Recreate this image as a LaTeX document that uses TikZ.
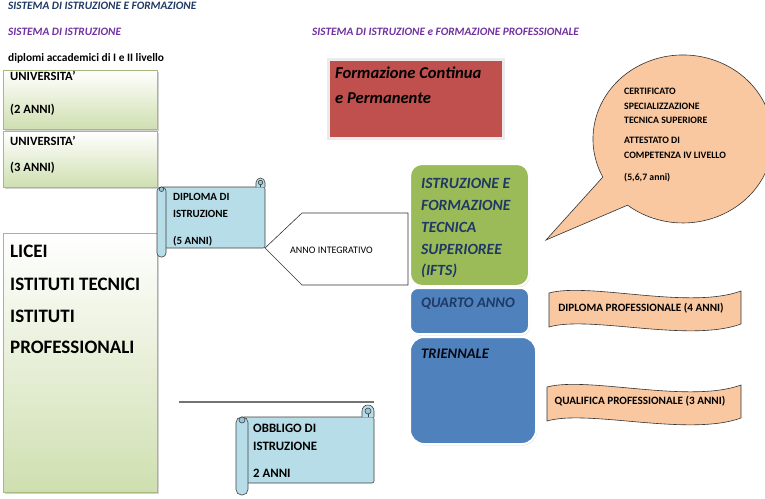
\documentclass[tikz,border=0pt]{standalone}
\usepackage{fontspec}
\setmainfont{Carlito}
\usetikzlibrary{shadows}

\definecolor{titlenavy}{HTML}{1F3864}
\definecolor{titlepurple}{HTML}{7030A0}
\definecolor{unigreen}{HTML}{CFDFB0}
\definecolor{uniborder}{HTML}{A6B97F}
\definecolor{scrollblue}{HTML}{B7DDE8}
\definecolor{rollblue}{HTML}{98C6D4}
\definecolor{fcred}{HTML}{C0504D}
\definecolor{iftsgreen}{HTML}{9BBB59}
\definecolor{iefpblue}{HTML}{4F81BD}
\definecolor{peach}{HTML}{FAC8A0}

\newcommand{\pxfont}[1]{\fontsize{#1}{#1}\selectfont}

% horizontal scroll: x0, top, x1, bottom, roll radius
\newcommand{\scrollbox}[5]{%
  \filldraw[scrollline, fill=scrollblue, rounded corners=2pt]
    (#1+#5,#2+2*#5) rectangle (#3,#4-2*#5);
  \filldraw[scrollline, fill=scrollblue]
    (#3-2*#5,#2+2*#5) -- (#3-2*#5,#2+#5)
    arc[start angle=180, end angle=360, radius=#5] -- (#3,#2+2*#5);
  \filldraw[scrollline, fill=rollblue]
    (#3-#5,#2+#5) circle[radius=#5/2];
  \draw[scrollline] (#3-#5,#2+2*#5) -- (#3-#5,#2+1.5*#5);
  \filldraw[scrollline, fill=scrollblue, rounded corners=#5-0.5]
    (#1,#2+2*#5) rectangle (#1+2*#5,#4);
  \filldraw[scrollline, fill=rollblue]
    (#1+#5,#2+2.5*#5) circle[radius=#5/2];
}

% wavy banner: x0, top, width
\newcommand{\wavebanner}[3]{%
  \filldraw[draw=black!80, fill=peach, line width=0.6pt]
    (#1,#2+3) .. controls (#1+0.21*#3,#2-8) and (#1+0.73*#3,#2+20) .. (#1+#3,#2+1)
    -- (#1+#3,#2+34)
    .. controls (#1+0.73*#3,#2+53) and (#1+0.21*#3,#2+25) .. (#1,#2+37) -- cycle;
}

\tikzset{
  lbl/.style={anchor=base west, inner sep=0pt},
  title/.style={lbl, font=\pxfont{11.3}\bfseries\itshape},
  unibox/.style={draw=uniborder, line width=0.8pt, top color=white, bottom color=unigreen,
    anchor=north west, inner sep=0pt,
    drop shadow={shadow xshift=1.5pt, shadow yshift=-2pt, opacity=0.35}},
  unitext/.style={lbl, font=\pxfont{12.6}\bfseries},
  scrollline/.style={draw=black!75, line width=0.6pt},
  roundbox/.style={draw=white, line width=2pt, anchor=north west, inner sep=0pt,
    drop shadow={shadow xshift=1pt, shadow yshift=-1.5pt, opacity=0.2}},
  boxtext/.style={lbl, text=titlenavy, font=\pxfont{15.6}\bfseries\itshape},
  bubtext/.style={lbl, font=\pxfont{9.8}\bfseries},
  bantext/.style={anchor=base, inner sep=0pt, font=\pxfont{11.2}\bfseries},
}

\begin{document}
\begin{tikzpicture}[x=1pt,y=-1pt]
    \clip (0,0) rectangle (765,498);
    \fill[white] (0,0) rectangle (765,498);

    % Titles
    \node[title, text=titlenavy] (tsys) at (8,9.5) {SISTEMA DI ISTRUZIONE E FORMAZIONE};
    \node[title, text=titlepurple] (tistr) at (8,35.5) {SISTEMA DI ISTRUZIONE};
    \node[lbl, font=\pxfont{11.4}\bfseries] (tdipl) at (8,61) {diplomi accademici di I e II livello};
    \node[title, text=titlepurple] (tiefp) at (312,35.5) {SISTEMA DI ISTRUZIONE e FORMAZIONE PROFESSIONALE};

    % University and school boxes
    \node[unibox, minimum width=154pt, minimum height=59pt] (uni2) at (3,70) {};
    \node[unibox, minimum width=154pt, minimum height=56pt] (uni3) at (3,131) {};
    \node[unibox, minimum width=154pt, minimum height=259pt] (licei) at (3,233) {};
    \node[unitext] (uni2a) at (10,80.5) {UNIVERSITA’};
    \node[unitext] (uni2b) at (10,113) {(2 ANNI)};
    \node[unitext] (uni3a) at (10,145.5) {UNIVERSITA’};
    \node[unitext] (uni3b) at (10,171) {(3 ANNI)};
    \node[lbl, font=\pxfont{19}\bfseries] (liceia) at (10,257) {LICEI};
    \node[lbl, font=\pxfont{19}\bfseries] (liceib) at (10,290) {ISTITUTI TECNICI};
    \node[lbl, font=\pxfont{19}\bfseries] (liceic) at (10,322) {ISTITUTI};
    \node[lbl, font=\pxfont{19}\bfseries] (liceid) at (10,353) {PROFESSIONALI};

    % Diploma scroll
    \scrollbox{157}{178}{265}{257}{4.5}
    \node[lbl, font=\pxfont{11}\bfseries] (dipa) at (173,200) {DIPLOMA DI};
    \node[lbl, font=\pxfont{11}\bfseries] (dipb) at (173,217) {ISTRUZIONE};
    \node[lbl, font=\pxfont{11}\bfseries] (dipc) at (173,244) {(5 ANNI)};

    % Anno integrativo
    \filldraw[draw=black!80, fill=white, line width=0.6pt]
      (265,248) -- (302,213) -- (408,213) -- (408,285) -- (302,285) -- cycle;
    \node[lbl, font=\pxfont{10}] (annoint) at (290,253) {ANNO INTEGRATIVO};

    % Separator and obbligo scroll
    \coordinate (sepL) at (179,402);
    \coordinate (sepR) at (374,402);
    \draw[black!55, line width=1.5pt] (sepL) -- (sepR);
    \scrollbox{236}{405}{374}{495}{6}
    \node[lbl, font=\pxfont{12.8}\bfseries] (obba) at (253,432) {OBBLIGO DI};
    \node[lbl, font=\pxfont{12.8}\bfseries] (obbb) at (253,450) {ISTRUZIONE};
    \node[lbl, font=\pxfont{12.8}\bfseries] (obbc) at (253,477) {2 ANNI};

    % Formazione continua
    \node[draw=black!8, line width=2.5pt, fill=fcred, anchor=north west,
      minimum width=175pt, minimum height=79pt, inner sep=0pt,
      drop shadow={shadow xshift=1.5pt, shadow yshift=-1.5pt, opacity=0.3}] (fcp) at (327,58) {};
    \node[lbl, font=\pxfont{16.6}\bfseries\itshape] (fcpa) at (335,78) {Formazione Continua};
    \node[lbl, font=\pxfont{16.6}\bfseries\itshape] (fcpb) at (335,103) {e Permanente};

    % IeFP boxes
    \node[roundbox, fill=iftsgreen, rounded corners=12pt, minimum width=119pt, minimum height=122pt] (ifts) at (409,163) {};
    \node[roundbox, fill=iefpblue, rounded corners=8pt, minimum width=119pt, minimum height=46pt] (quarto) at (409,287) {};
    \node[roundbox, fill=iefpblue, rounded corners=14pt, minimum width=126pt, minimum height=107pt] (trienn) at (409,336) {};
    \node[boxtext] (iftsa) at (421,188) {ISTRUZIONE E};
    \node[boxtext] (iftsb) at (421,210) {FORMAZIONE};
    \node[boxtext] (iftsc) at (421,232) {TECNICA};
    \node[boxtext] (iftsd) at (421,254) {SUPERIOREE};
    \node[boxtext] (iftse) at (421,275) {(IFTS)};
    \node[boxtext, font=\pxfont{14.6}\bfseries\itshape] (quartot) at (421,307) {QUARTO ANNO};
    \node[boxtext, text=black!85!titlenavy, font=\pxfont{14.6}\bfseries\itshape] (triennt) at (421,358) {TRIENNALE};

    % Certificate bubble
    \filldraw[draw=black!80, fill=peach, line width=0.6pt]
      (602.8,177.1) arc[start angle=153, end angle=488, x radius=90, y radius=84]
      -- (546,240) -- cycle;
    \node[bubtext] (certa) at (624,94) {CERTIFICATO};
    \node[bubtext] (certb) at (624,109) {SPECIALIZZAZIONE};
    \node[bubtext] (certc) at (624,123) {TECNICA SUPERIORE};
    \node[bubtext] (certd) at (624,143) {ATTESTATO DI};
    \node[bubtext] (certe) at (624,158) {COMPETENZA IV LIVELLO};
    \node[bubtext] (certf) at (624,180) {(5,6,7 anni)};

    % Qualification banners
    \wavebanner{549}{290}{192}
    \node[bantext] (dipprof) at (641,311) {DIPLOMA PROFESSIONALE (4 ANNI)};
    \wavebanner{547}{384}{194}
    \node[bantext] (qualprof) at (640,404) {QUALIFICA PROFESSIONALE (3 ANNI)};
\end{tikzpicture}
\end{document}
